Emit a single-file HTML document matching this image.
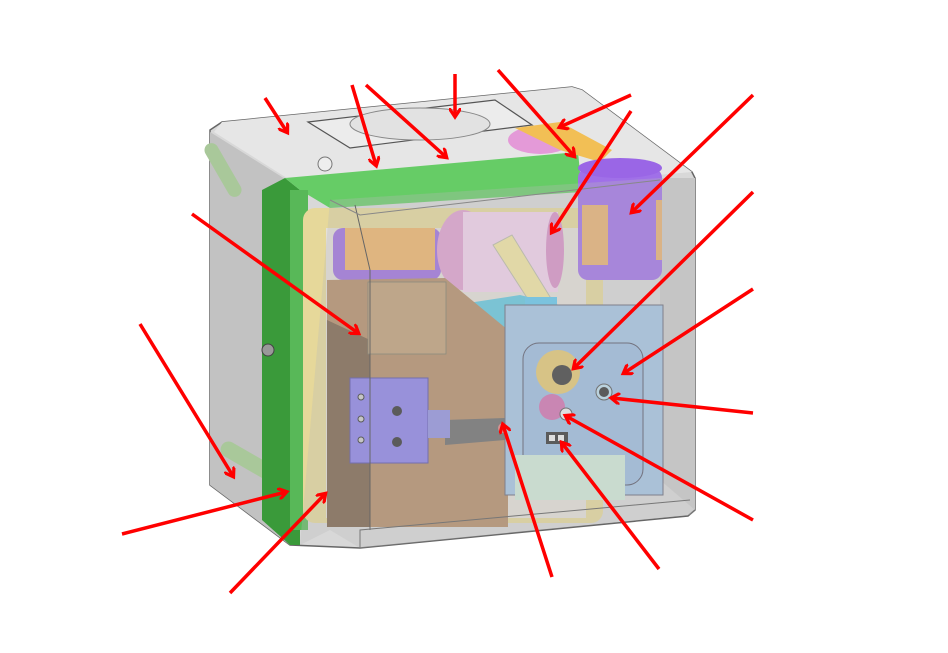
<!DOCTYPE html>
<html><head><meta charset="utf-8"><style>html,body{margin:0;padding:0;background:#fff;}svg{display:block}</style></head>
<body>
<svg width="948" height="653" viewBox="0 0 948 653" xmlns="http://www.w3.org/2000/svg">
<defs>
<marker id="ah" markerWidth="12" markerHeight="12" refX="8" refY="6" orient="auto" markerUnits="userSpaceOnUse">
<path d="M0,0 L9,6 L0,12" fill="none" stroke="#f00" stroke-width="3.2"/>
</marker>
</defs>
<polygon points="210,130 222,122 572,87 582,90 692,172 695,178 695,510 688,516 360,548 290,545 210,485" fill="#d8d8d8" stroke="#666" stroke-width="1.5"/>
<polygon points="222,122 572,87 582,90 692,172 600,180 330,200 290,180 214,132" fill="#e6e6e6"/>
<polygon points="308,122 495,100 532,125 350,148" fill="#ececec" stroke="#555" stroke-width="1.2"/>
<ellipse cx="420" cy="124" rx="70" ry="16" fill="#e2e2e2" stroke="#888"/>
<circle cx="325" cy="164" r="7" fill="#eee" stroke="#777"/>
<polygon points="210,132 290,182 290,545 210,485" fill="#c2c2c2"/>
<rect x="216" y="140" width="14" height="60" rx="7" fill="#a9c89a" transform="rotate(-30 223 170)"/>
<rect x="217" y="455" width="70" height="16" rx="8" fill="#a9c89a" transform="rotate(30 252 463)"/>
<polygon points="660,178 695,178 695,510 660,480" fill="#cbcbcb"/>
<polygon points="262,190 285,178 300,190 300,545 290,545 262,520" fill="#3a9a3a"/>
<polygon points="285,178 578,152 582,192 330,208 300,190" fill="#66cc66"/>
<rect x="290" y="190" width="18" height="340" fill="#58b858"/>
<rect x="303" y="208" width="300" height="315" rx="12" fill="#e6d89a"/>
<rect x="326" y="228" width="260" height="290" fill="#e4e0d8"/>
<rect x="333" y="228" width="108" height="52" rx="10" fill="#9c6de0"/>
<rect x="345" y="228" width="90" height="42" fill="#f0b468"/>
<ellipse cx="463" cy="250" rx="26" ry="40" fill="#e0a0d0"/>
<rect x="463" y="212" width="95" height="80" fill="#f3d2ec"/>
<ellipse cx="555" cy="250" rx="9" ry="38" fill="#d890c8"/>
<ellipse cx="540" cy="140" rx="32" ry="14" fill="#e49ad8"/>
<polygon points="515,128 560,122 612,150 600,162 560,150" fill="#f2bf55"/>
<rect x="578" y="168" width="84" height="112" rx="10" fill="#a070e8"/>
<ellipse cx="620" cy="168" rx="42" ry="10" fill="#9a66e6"/>
<rect x="582" y="205" width="26" height="60" fill="#e8b070"/>
<rect x="656" y="200" width="6" height="60" fill="#e8b070"/>
<polygon points="493,245 512,235 555,305 540,318" fill="#f3e6a0" stroke="#bba" stroke-width="1"/>
<polygon points="455,305 520,295 560,305 540,330 480,330" fill="#60c8e0"/>
<rect x="525" y="297" width="32" height="40" fill="#60c8ee"/>
<polygon points="327,280 445,278 508,330 508,527 445,527 327,527" fill="#b48c66"/>
<polygon points="327,320 370,340 370,527 327,527" fill="#7a6048"/>
<rect x="368" y="282" width="78" height="72" fill="#c09e76" stroke="#776" stroke-width="0.8"/>
<polygon points="445,420 505,418 505,440 445,445" fill="#6a6a6a"/>
<rect x="350" y="378" width="78" height="85" fill="#8a80e8" stroke="#5550aa"/>
<circle cx="397" cy="411" r="5" fill="#333"/><circle cx="397" cy="442" r="5" fill="#333"/>
<circle cx="361" cy="397" r="3" fill="#ccc" stroke="#333"/><circle cx="361" cy="419" r="3" fill="#ccc" stroke="#333"/><circle cx="361" cy="440" r="3" fill="#ccc" stroke="#333"/>
<rect x="428" y="410" width="22" height="28" fill="#9090e0"/>
<circle cx="503" cy="428" r="5" fill="#e08080"/>
<rect x="505" y="305" width="158" height="190" fill="#a4c4e4" stroke="#667" stroke-width="1"/>
<rect x="523" y="343" width="120" height="142" rx="16" fill="#9bbce0" stroke="#556" stroke-width="1"/>
<rect x="515" y="455" width="110" height="45" fill="#d0ead8"/>
<ellipse cx="558" cy="372" rx="22" ry="22" fill="#e4c870"/>
<circle cx="562" cy="375" r="10" fill="#3a3a3a"/>
<circle cx="552" cy="407" r="13" fill="#d070b0"/>
<circle cx="566" cy="414" r="6" fill="#eee" stroke="#555"/>
<circle cx="604" cy="392" r="8" fill="#bde" stroke="#555"/><circle cx="604" cy="392" r="5" fill="#333"/>
<rect x="546" y="432" width="22" height="12" fill="#333"/><rect x="549" y="435" width="6" height="6" fill="#eee"/><rect x="558" y="435" width="6" height="6" fill="#eee"/>
<polygon points="330,200 660,178 695,178 695,510 690,515 360,548 330,530 300,545" fill="#bbbbbb" opacity="0.3"/>
<polyline points="355,205 370,270 370,530" fill="none" stroke="#666" stroke-width="1"/>
<polyline points="330,200 360,215 660,180" fill="none" stroke="#888" stroke-width="1"/>
<polyline points="360,548 360,530 690,500" fill="none" stroke="#777" stroke-width="1"/>
<circle cx="268" cy="350" r="6" fill="#999" stroke="#444"/>
<g stroke="#f00" stroke-width="3.5" fill="none" marker-end="url(#ah)">
<line x1="265" y1="98" x2="287" y2="132"/>
<line x1="352" y1="85" x2="376" y2="165"/>
<line x1="366" y1="85" x2="446" y2="157"/>
<line x1="455" y1="74" x2="455" y2="116"/>
<line x1="498" y1="70" x2="574" y2="156"/>
<line x1="631" y1="95" x2="560" y2="127"/>
<line x1="631" y1="111" x2="552" y2="232"/>
<line x1="753" y1="95" x2="632" y2="212"/>
<line x1="192" y1="214" x2="358" y2="333"/>
<line x1="753" y1="192" x2="574" y2="368"/>
<line x1="753" y1="289" x2="624" y2="373"/>
<line x1="140" y1="324" x2="233" y2="476"/>
<line x1="753" y1="413" x2="612" y2="398"/>
<line x1="753" y1="520" x2="566" y2="416"/>
<line x1="122" y1="534" x2="286" y2="492"/>
<line x1="230" y1="593" x2="325" y2="494"/>
<line x1="552" y1="577" x2="503" y2="425"/>
<line x1="659" y1="569" x2="562" y2="443"/>
</g>
</svg>
</body></html>
